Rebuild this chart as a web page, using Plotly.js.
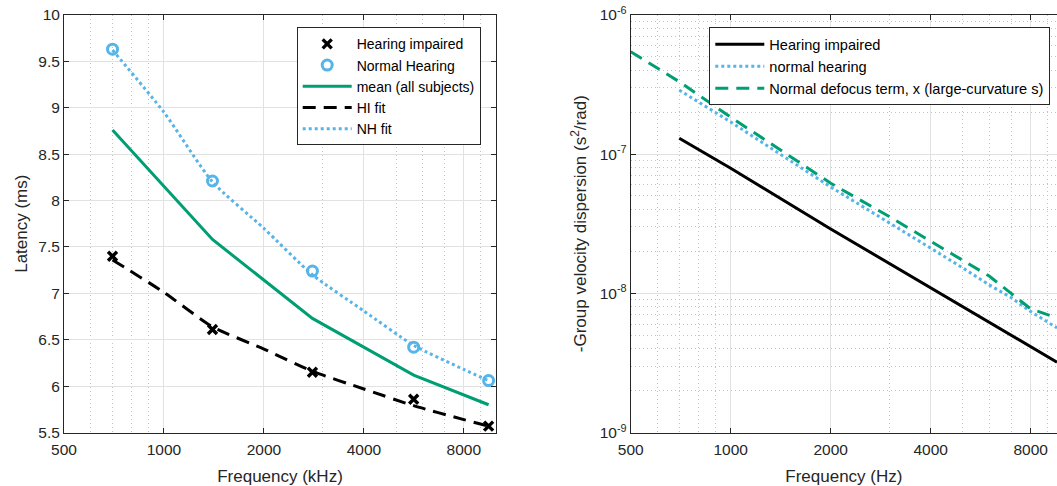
<!DOCTYPE html>
<html>
<head>
<meta charset="utf-8">
<script src="https://cdn.plot.ly/plotly-3.0.1.min.js"></script>
<style>html,body{margin:0;padding:0;background:#fff;}#chart{width:1057px;height:486px;}</style>
</head>
<body>
<div id="chart"></div>
<script>
// ---- Left panel data: latency vs frequency ----
const freqs = [700, 1400, 2800, 5650, 9500];
const hiLatency = [7.40, 6.61, 6.15, 5.86, 5.57];
const nhLatency = [9.63, 8.21, 7.24, 6.42, 6.06];
const meanLatency = [8.76, 7.58, 6.73, 6.12, 5.80];
const fitFreqs = [700, 1000, 1400, 2000, 2800, 4000, 5650, 8000, 9500];
const hiFit = [7.36, 7.01, 6.64, 6.40, 6.16, 5.97, 5.79, 5.64, 5.57];
const nhFit = [9.62, 8.95, 8.20, 7.70, 7.20, 6.81, 6.44, 6.18, 6.06];
const latencyTicks = [5.5, 6, 6.5, 7, 7.5, 8, 8.5, 9, 9.5, 10];
const latencyTickText = ['5.5', '6', '6.5', '7', '7.5', '8', '8.5', '9', '9.5', '10'];

// ---- Right panel data: group velocity dispersion ----
const hiGvdFreqs = [700, 1000, 2000, 4000, 8000, 9600];
const hiGvd = [1.30e-7, 7.9e-8, 2.9e-8, 1.09e-8, 4.1e-9, 3.2e-9];
const nhGvdFreqs = [700, 1000, 2000, 3000, 4000, 5000, 6000, 7000, 8000, 9600];
const nhGvd = [2.88e-7, 1.70e-7, 5.8e-8, 3.23e-8, 2.11e-8, 1.52e-8, 1.15e-8, 9.3e-9, 7.4e-9, 5.65e-9];
const defFreqs = [500, 700, 1000, 2000, 3000, 4000, 5000, 6000, 7000, 8000, 9600];
const defGvd = [5.43e-7, 3.31e-7, 1.84e-7, 6.18e-8, 3.56e-8, 2.36e-8, 1.73e-8, 1.33e-8, 9.95e-9, 7.73e-9, 6.67e-9];
const gvdTicks = [1e-9, 1e-8, 1e-7, 1e-6];
const gvdTickText = ['10<sup>-9</sup>', '10<sup>-8</sup>', '10<sup>-7</sup>', '10<sup>-6</sup>'];
const gvdMinor = [2e-9,3e-9,4e-9,5e-9,6e-9,7e-9,8e-9,9e-9,2e-8,3e-8,4e-8,5e-8,6e-8,7e-8,8e-8,9e-8,2e-7,3e-7,4e-7,5e-7,6e-7,7e-7,8e-7,9e-7];

// ---- shared frequency ticks ----
const freqTicks = [500, 1000, 2000, 4000, 8000];
const freqTickText = ['500', '1000', '2000', '4000', '8000'];
const freqMinor = [600, 700, 800, 900, 3000, 5000, 6000, 7000, 9000];

const BLUE = '#56B4E9', GREEN = '#009E73', BLACK = '#000000', AX = '#262626';
const FONT = 'Liberation Sans, Arial, Helvetica, sans-serif';
const MINOR_GRID = {showgrid: true, gridcolor: '#c4c4c4', griddash: '1px,3px', gridwidth: 1, ticks: ''};

const traces = [
  {x: freqs, y: hiLatency, name: 'Hearing impaired', mode: 'markers', xaxis: 'x', yaxis: 'y',
   marker: {symbol: 'x-thin-open', size: 9, color: BLACK, line: {color: BLACK, width: 3.4}}, legend: 'legend'},
  {x: freqs, y: nhLatency, name: 'Normal Hearing', mode: 'markers', xaxis: 'x', yaxis: 'y',
   marker: {symbol: 'circle-open', size: 10, color: BLUE, line: {color: BLUE, width: 3}}, legend: 'legend'},
  {x: freqs, y: meanLatency, name: 'mean (all subjects)', mode: 'lines', xaxis: 'x', yaxis: 'y',
   line: {color: GREEN, width: 3}, legend: 'legend'},
  {x: fitFreqs, y: hiFit, name: 'HI fit', mode: 'lines', xaxis: 'x', yaxis: 'y',
   line: {color: BLACK, width: 3, dash: '13px,8px', shape: 'spline', smoothing: 0.6}, legend: 'legend'},
  {x: fitFreqs, y: nhFit, name: 'NH fit', mode: 'lines', xaxis: 'x', yaxis: 'y',
   line: {color: BLUE, width: 3, dash: '3px,3px', shape: 'spline', smoothing: 0.6}, legend: 'legend'},

  {x: hiGvdFreqs, y: hiGvd, name: 'Hearing impaired', mode: 'lines', xaxis: 'x2', yaxis: 'y2',
   line: {color: BLACK, width: 3}, legend: 'legend2'},
  {x: nhGvdFreqs, y: nhGvd, name: 'normal hearing', mode: 'lines', xaxis: 'x2', yaxis: 'y2',
   line: {color: BLUE, width: 3, dash: '3px,3px'}, legend: 'legend2'},
  {x: defFreqs, y: defGvd, name: 'Normal defocus term, x (large-curvature s)', mode: 'lines', xaxis: 'x2', yaxis: 'y2',
   line: {color: GREEN, width: 3, dash: '13px,8px'}, legend: 'legend2'}
];

const W = 1057, H = 486;
const yDom = [(H - 432.6) / H, (H - 14.8) / H];

function xAxis(domain, range, title) {
  return {
    type: 'log', domain: domain, range: range,
    tickmode: 'array', tickvals: freqTicks, ticktext: freqTickText,
    ticks: 'inside', ticklen: 5, tickcolor: AX, tickwidth: 1, ticklabelstandoff: 3,
    showline: true, linecolor: AX, linewidth: 1, mirror: 'ticks',
    showgrid: true, gridcolor: '#e2e2e2', gridwidth: 1,
    minor: Object.assign({tickmode: 'array', tickvals: freqMinor}, MINOR_GRID),
    tickfont: {family: FONT, size: 15.5, color: AX},
    title: {text: title, font: {family: FONT, size: 17, color: AX}, standoff: 14},
    zeroline: false, automargin: false, fixedrange: true
  };
}

const layout = {
  width: W, height: H,
  margin: {l: 0, r: 0, t: 0, b: 0},
  paper_bgcolor: '#ffffff', plot_bgcolor: '#ffffff',
  font: {family: FONT, color: AX},
  showlegend: true,
  xaxis: Object.assign(xAxis([64 / W, 496 / W], [Math.log10(500), Math.log10(10000)], 'Frequency (kHz)'), {anchor: 'y'}),
  xaxis2: Object.assign(xAxis([630.7 / W, 1], [Math.log10(500), Math.log10(9600)], 'Frequency (Hz)'), {anchor: 'y2'}),
  yaxis: {
    domain: yDom, range: [5.5, 10], anchor: 'x',
    tickmode: 'array', tickvals: latencyTicks, ticktext: latencyTickText,
    ticks: 'inside', ticklen: 5, tickcolor: AX,
    showline: true, linecolor: AX, linewidth: 1, mirror: 'ticks',
    showgrid: true, gridcolor: '#e2e2e2', gridwidth: 1,
    tickfont: {family: FONT, size: 15.5, color: AX},
    title: {text: 'Latency (ms)', font: {family: FONT, size: 17, color: AX}, standoff: 6},
    zeroline: false, automargin: false, fixedrange: true
  },
  yaxis2: {
    type: 'log', domain: yDom, range: [-9, -6], anchor: 'x2',
    tickmode: 'array', tickvals: gvdTicks, ticktext: gvdTickText,
    ticks: 'inside', ticklen: 5, tickcolor: AX,
    showline: true, linecolor: AX, linewidth: 1, mirror: false,
    showgrid: true, gridcolor: '#e2e2e2', gridwidth: 1,
    minor: Object.assign({tickmode: 'array', tickvals: gvdMinor}, MINOR_GRID),
    tickfont: {family: FONT, size: 15.5, color: AX},
    title: {text: '-Group velocity dispersion (s<sup>2</sup>/rad)', font: {family: FONT, size: 17, color: AX}, standoff: 8},
    zeroline: false, automargin: false, fixedrange: true
  },
  legend: {
    x: 296.7 / W, y: 1 - 27.3 / H, xanchor: 'left', yanchor: 'top',
    bgcolor: '#ffffff', bordercolor: AX, borderwidth: 1,
    font: {family: FONT, size: 14, color: '#000000'},
    itemwidth: 49, tracegroupgap: 0
  },
  legend2: {
    x: 709.3 / W, y: 1 - 27.3 / H, xanchor: 'left', yanchor: 'top',
    bgcolor: '#ffffff', bordercolor: AX, borderwidth: 1,
    font: {family: FONT, size: 14.6, color: '#000000'},
    itemwidth: 49, tracegroupgap: 0
  }
};

Plotly.newPlot('chart', traces, layout, {displayModeBar: false, staticPlot: true});
</script>
</body>
</html>
